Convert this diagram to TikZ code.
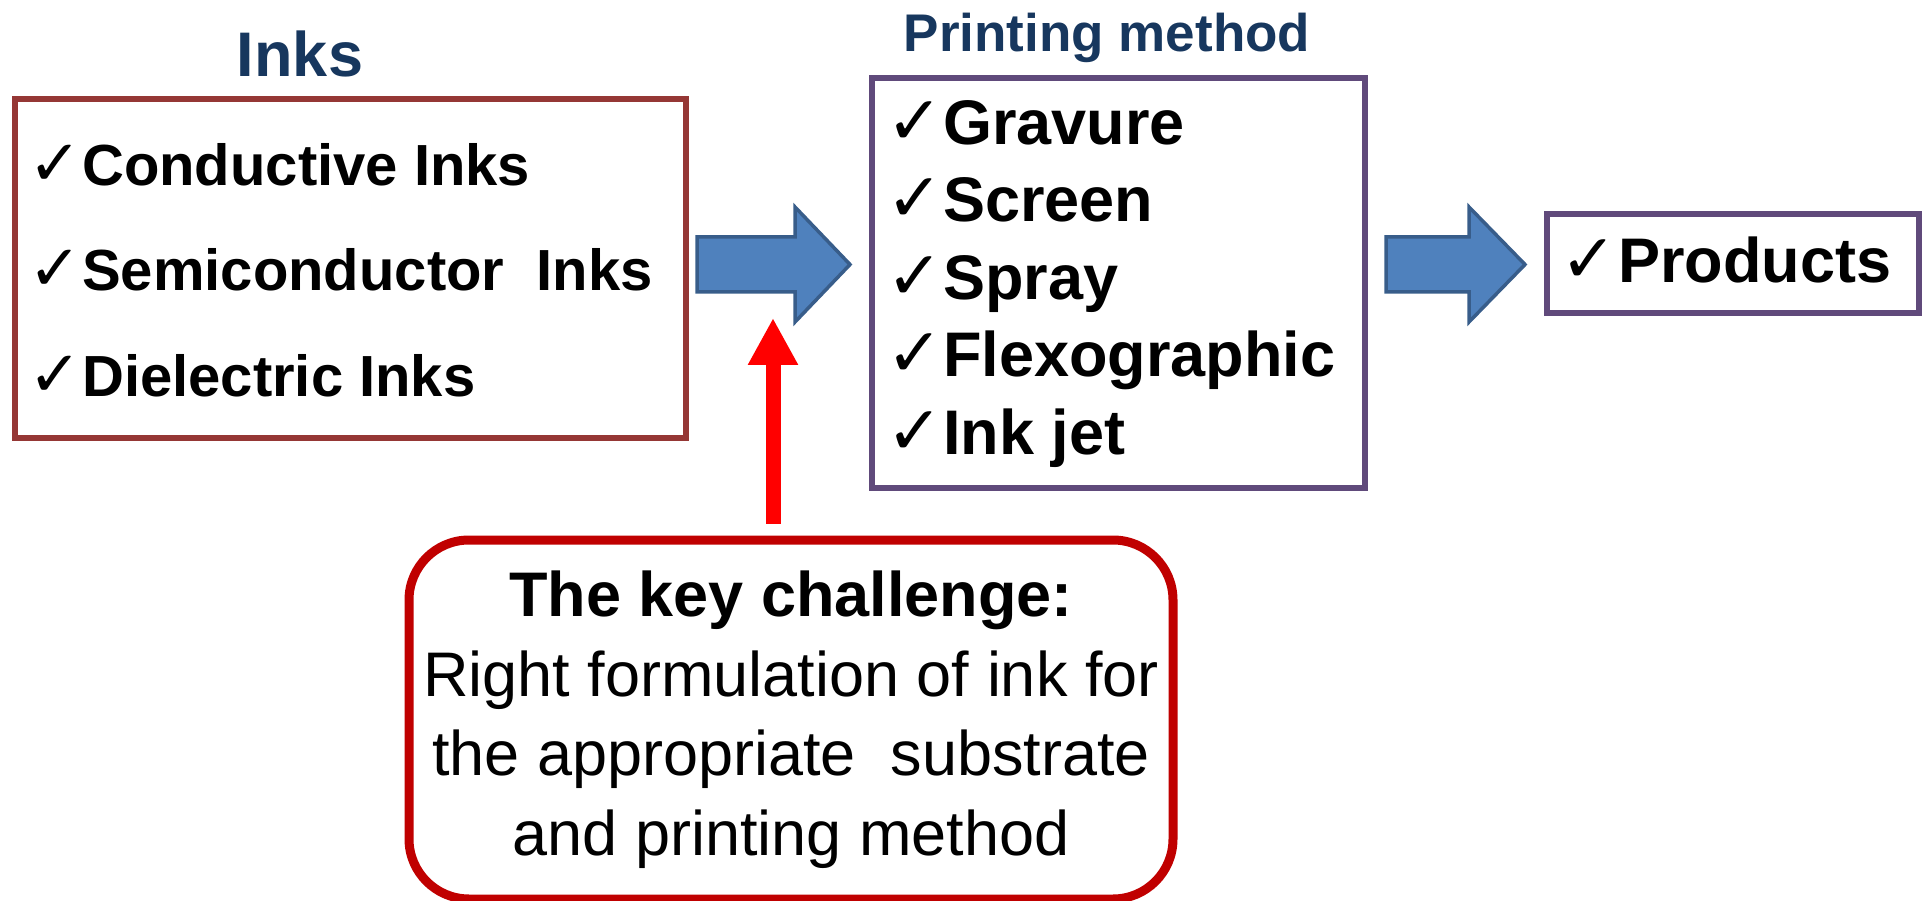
\documentclass[tikz,border=0pt]{standalone}
\usepackage{fontspec}
\setmainfont{Liberation Sans}
\newfontfamily\symfont{DejaVu Sans}
\usetikzlibrary{arrows.meta,calc}

\definecolor{inkred}{HTML}{953735}
\definecolor{methodpurple}{HTML}{604A7B}
\definecolor{titleblue}{HTML}{17375E}
\definecolor{arrowfill}{HTML}{4F81BD}
\definecolor{arrowline}{HTML}{385D8A}
\definecolor{challengered}{HTML}{C00000}

% check mark (size #2) followed by a fixed gap (#1) before the item text
\newcommand{\mycheck}[2]{\makebox[#1pt][l]{\symfont\fontsize{#2}{#2}\selectfont ✓}}

\tikzset{
  framebox/.style={draw, fill=white, inner sep=0pt, anchor=north west, line width=6pt},
  itemsmall/.style={anchor=base west, inner sep=0pt, font=\bfseries\fontsize{58}{58}\selectfont},
  itemlarge/.style={anchor=base west, inner sep=0pt, font=\bfseries\fontsize{63}{63}\selectfont},
  heading/.style={anchor=base, inner sep=0pt, text=titleblue},
  blockarrow/.style={fill=arrowfill, draw=arrowline, line width=3.5pt, line join=miter},
}

\begin{document}
\begin{tikzpicture}[x=1pt,y=-1pt]
\useasboundingbox (0,0) rectangle (1923,901);

% ---- Inks ----
\node[heading, font=\bfseries\fontsize{63}{63}\selectfont] (inkstitle) at (300,77) {Inks};
\node[framebox, draw=inkred, minimum width=671pt, minimum height=339pt] (inks) at (12,96) {};
\node[itemsmall] (ink1) at (28,186) {\mycheck{54}{64}Conductive Inks};
\node[itemsmall] (ink2) at (28,291) {\mycheck{54}{64}Semiconductor~ Inks};
\node[itemsmall] (ink3) at (28,396) {\mycheck{54}{64}Dielectric Inks};

% ---- Printing method ----
\node[heading, font=\bfseries\fontsize{53}{53}\selectfont] (pmtitle) at (1107,52) {Printing method};
\node[framebox, draw=methodpurple, minimum width=493pt, minimum height=410pt] (pm) at (869,75) {};
\node[itemlarge] (pm1) at (886,145) {\mycheck{57}{68}Gravure};
\node[itemlarge] (pm2) at (886,222) {\mycheck{57}{68}Screen};
\node[itemlarge] (pm3) at (886,300) {\mycheck{57}{68}Spray};
\node[itemlarge] (pm4) at (886,377) {\mycheck{57}{68}Flexographic};
\node[itemlarge] (pm5) at (886,454) {\mycheck{57}{68}Ink jet};

% ---- Products ----
\node[framebox, draw=methodpurple, minimum width=372pt, minimum height=99pt] (prod) at (1544,211) {};
\node[itemlarge] (prodtext) at (1560,283) {\mycheck{58}{68}Products};

% ---- block arrows between the stages ----
\draw[blockarrow] (697,237) -- (795,237) -- (795,207) -- (850,264.5) -- (795,322) -- (795,292) -- (697,292) -- cycle;
\draw[blockarrow] (1386,237) -- (1469,237) -- (1469,207) -- (1525,264.5) -- (1469,322) -- (1469,292) -- (1386,292) -- cycle;

% ---- key challenge ----
\node[draw=challengered, line width=9pt, rounded corners=60pt, fill=white,
      minimum width=764pt, minimum height=359pt, inner sep=0pt,
      align=center, font=\fontsize{63}{79.5}\selectfont] (challenge) at (791,719.5)
  {\textbf{The key challenge:}\\Right formulation of ink for\\the appropriate~ substrate\\and printing method};

\coordinate (redstart) at ($(challenge.north)+(-18,-12)$);
\coordinate (redtip) at (773,318);
\draw[draw=red, line width=15pt, -{Triangle[width=47pt,length=47pt]}] (redstart) -- (redtip);
\end{tikzpicture}
\end{document}
